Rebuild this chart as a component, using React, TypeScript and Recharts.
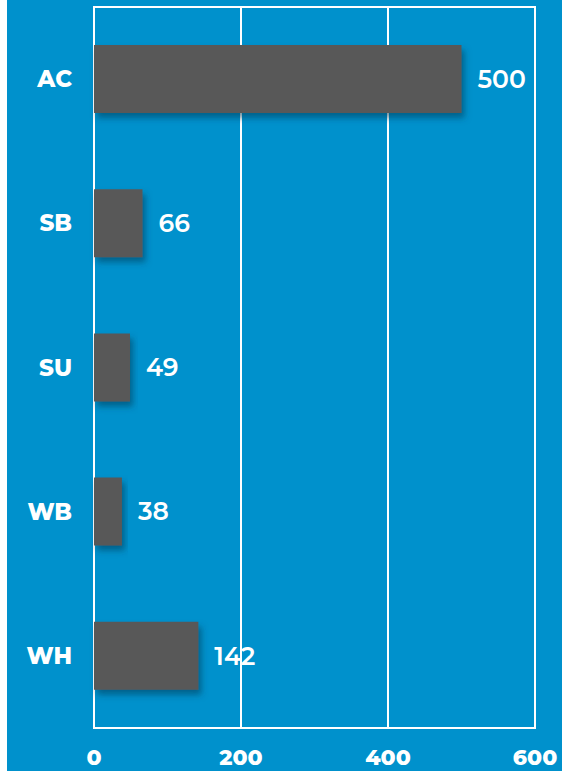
import { BarChart, Bar, XAxis, YAxis, CartesianGrid, LabelList, ReferenceArea } from "recharts";

const categories = ["AC", "SB", "SU", "WB", "WH"];
const counts = [500, 66, 49, 38, 142];
const xTicks = [0, 200, 400, 600];

const data = categories.map((name, i) => ({ name, value: counts[i] }));

const FONT = "Montserrat, 'Open Sans', 'Noto Sans', sans-serif";

export default function App() {
  return (
    <div style={{ position: "absolute", left: 7, top: 0, width: 555, height: 771, background: "#0091cc", fontFamily: FONT }}>
      <BarChart width={555} height={771} data={data} layout="vertical" margin={{ top: 7, right: 27, bottom: 0, left: 0 }} barCategoryGap={76}>
        <defs>
          <filter id="shadow" x="-10%" y="-20%" width="130%" height="160%">
            <feDropShadow dx={3} dy={5} stdDeviation={3} floodColor="#003a55" floodOpacity={0.55} />
          </filter>
        </defs>
        <CartesianGrid horizontal={false} stroke="#ffffff" strokeWidth={2} />
        <ReferenceArea x1={0} x2={600} fill="none" stroke="#ffffff" strokeWidth={2} ifOverflow="extendDomain" />
        <XAxis
          type="number"
          domain={[0, 600]}
          ticks={xTicks}
          height={43}
          axisLine={false}
          tickLine={false}
          tickSize={0}
          tickMargin={21}
          tick={{ fill: "#ffffff", fontSize: 22, fontWeight: 800, fontFamily: FONT }}
        />
        <YAxis
          type="category"
          dataKey="name"
          width={87}
          axisLine={false}
          tickLine={false}
          tickSize={0}
          tickMargin={22}
          tick={{ fill: "#ffffff", fontSize: 23, fontWeight: 800, fontFamily: FONT }}
        />
        <Bar dataKey="value" fill="#595959" barSize={68} filter="url(#shadow)" isAnimationActive={false}>
          <LabelList dataKey="value" position="right" offset={16} fill="#ffffff" fontSize={25} fontWeight={600} fontFamily={FONT} />
        </Bar>
      </BarChart>
    </div>
  );
}
